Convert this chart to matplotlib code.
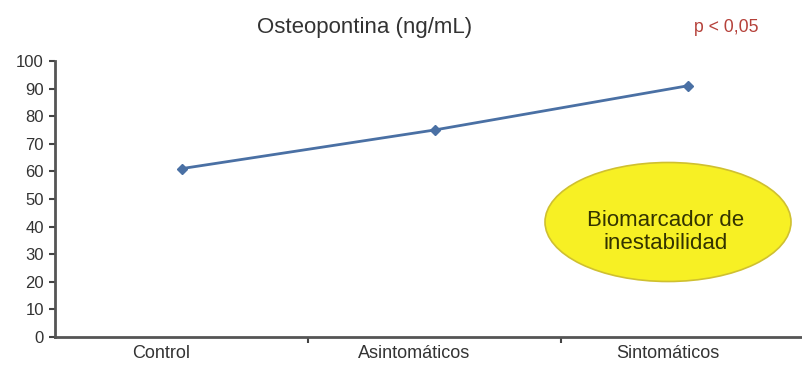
import numpy as np
import matplotlib
matplotlib.use("Agg")
import matplotlib.pyplot as plt
import matplotlib.transforms as mtransforms
from matplotlib.patches import Ellipse

# data
categories = ["Control", "Asintomáticos", "Sintomáticos"]
osteopontina = [61, 75, 91]
y_ticks = list(range(0, 101, 10))

plt.rcParams['font.family'] = ['Liberation Sans', 'DejaVu Sans']

fig = plt.figure(figsize=(8.02, 3.67), dpi=100)
ax = fig.add_axes([55 / 802, 30 / 367, 759 / 802, 276 / 367])

x = np.arange(len(categories))
ax.plot(x, osteopontina, color='#4a70a4', lw=2, marker='D', markersize=5.5,
        markeredgecolor='#4a70a4', clip_on=False, zorder=3)

ax.set_xlim(-0.5, len(categories) - 0.5)
ax.set_ylim(0, 100)
ax.set_yticks(y_ticks)

# category labels in the middle, tick marks on the boundaries
ax.set_xticks(x)
ax.set_xticklabels(categories, fontsize=13, color='#333333')
ax.set_xticks(np.arange(0.5, len(categories) - 0.5, 1), minor=True)
ax.tick_params(axis='x', which='major', length=0, pad=6)
ax.tick_params(axis='x', which='minor', length=4, width=1.5, color='#444444')
ax.tick_params(axis='y', length=4, width=1.5, color='#444444', pad=4,
               labelsize=12, labelcolor='#333333')
offset = mtransforms.ScaledTranslation(-0.2, 0, fig.dpi_scale_trans)
for lab in ax.get_xticklabels():
    lab.set_transform(lab.get_transform() + offset)

for side in ['top', 'right']:
    ax.spines[side].set_visible(False)
for side in ['left', 'bottom']:
    ax.spines[side].set_color('#555555')
    ax.spines[side].set_linewidth(2)

fig.text(365 / 802, 1 - 27 / 367, "Osteopontina (ng/mL)", fontsize=16,
         color='#333333', ha='center', va='center')
fig.text(726 / 802, 1 - 27 / 367, "p < 0,05", fontsize=12.7,
         color='#b5413a', ha='center', va='center')

ell = Ellipse((668 / 802, 1 - 222 / 367), 246 / 802, 119 / 367,
              transform=fig.transFigure, facecolor='#f7f024',
              edgecolor='#cfc030', lw=1.2, zorder=5)
fig.patches.append(ell)
fig.text(666 / 802, 1 - 232 / 367, "Biomarcador de\ninestabilidad", fontsize=16,
         color='#333300', ha='center', va='center', linespacing=1.1, zorder=6)

fig.savefig("out.png", dpi=100)
